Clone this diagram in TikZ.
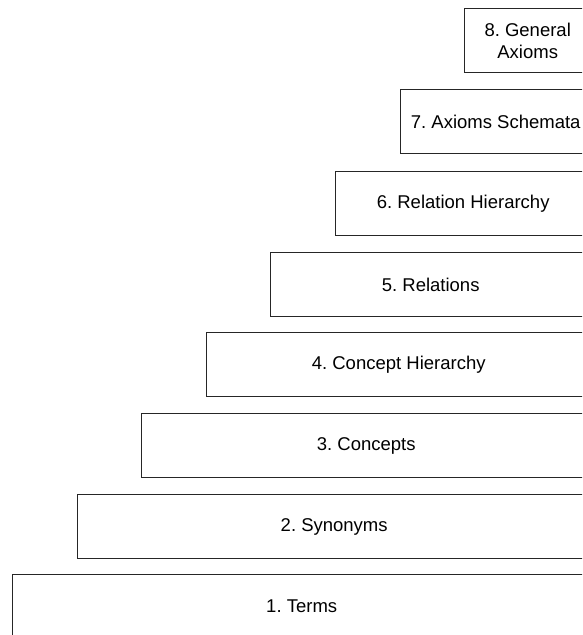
\documentclass[tikz,border=0pt]{standalone}
\usepackage{fontspec}
\setmainfont{Liberation Sans}
\frenchspacing
\begin{document}
\begin{tikzpicture}[x=1pt,y=-1pt,
  level/.style={draw=black!85, line width=1.4pt, rectangle, anchor=north west,
    minimum height=64pt, inner sep=0pt, align=center,
    font=\fontsize{18.5}{22}\selectfont}]
  \useasboundingbox (0,0) rectangle (582,635);
  \clip (0,0) rectangle (582,635);
  % staircase of levels, all running off to the right
  \foreach \n/\l/\t/\txt in {
      1/12/574/{1. Terms},
      2/77/494/{2. Synonyms},
      3/141/413/{3. Concepts},
      4/206/332/{4. Concept Hierarchy},
      5/270/252/{5. Relations},
      6/335/171/{6. Relation Hierarchy},
      7/400/89/{7. Axioms Schemata},
      8/464/8/{8. General\\Axioms}} {
    \pgfmathsetmacro{\w}{590-\l}
    \node[level, minimum width=\w pt] (lvl\n) at (\l,\t) {\txt};
  }
\end{tikzpicture}
\end{document}
